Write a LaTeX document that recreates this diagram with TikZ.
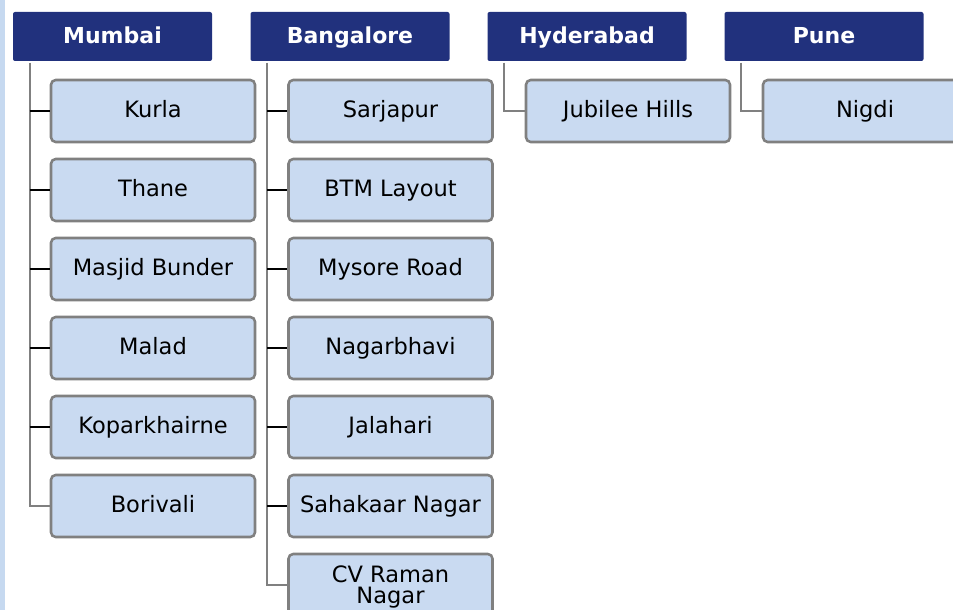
\documentclass[tikz,border=0pt]{standalone}
\usepackage{fontspec}
\setmainfont{DejaVu Sans}
\definecolor{navy}{HTML}{21317D}
\definecolor{boxfill}{HTML}{C9DAF1}
\definecolor{boxline}{HTML}{808080}
\definecolor{strip}{HTML}{C6D9F0}
\begin{document}
\begin{tikzpicture}[x=0.75pt,y=-0.75pt,
  hdr/.style={fill=navy, text=white, rounded corners=1.5pt, minimum width=199*0.75pt, minimum height=49*0.75pt, inner sep=0pt, text height=12.1pt, text depth=2.2pt, font=\fontsize{16.5pt}{19pt}\selectfont\bfseries},
  child/.style={fill=boxfill, draw=boxline, line width=1.9pt, rounded corners=3.5pt, minimum width=204*0.75pt, minimum height=62*0.75pt, inner sep=0pt, align=center, text height=12.3pt, text depth=2.2pt, font=\fontsize{16.9pt}{16pt}\selectfont},
  trunk/.style={draw=boxline, line width=1.7pt},
  tick/.style={draw=black, line width=1.7pt}]
\useasboundingbox (0,0) rectangle (953,610);
\fill[strip] (0,0) rectangle (5,610);
% headers
\node[hdr] (h1) at (112.5,36.5) {Mumbai};
\node[hdr] (h2) at (350,36.5) {Bangalore};
\node[hdr] (h3) at (587,36.5) {Hyderabad};
\node[hdr] (h4) at (824,36.5) {Pune};
% Mumbai
\foreach \t [count=\i] in {Kurla,Thane,Masjid Bunder,Malad,Koparkhairne,Borivali}
  \node[child] (m\i) at (153,{111+79*(\i-1)}) {\t};
% Bangalore
\foreach \t [count=\i] in {Sarjapur,BTM Layout,Mysore Road,Nagarbhavi,Jalahari,Sahakaar Nagar}
  \node[child] (b\i) at (390.5,{111+79*(\i-1)}) {\t};
\node[child, text height=28.3pt, text depth=0pt] (b7) at (390.5,585) {CV Raman\\Nagar};
% Hyderabad, Pune
\node[child] (y1) at (628,111) {Jubilee Hills};
\node[child] (p1) at (865,111) {Nigdi};
% connectors
\coordinate (t1) at ([xshift=17*0.75pt]h1.south west);
\coordinate (t2) at ([xshift=17*0.75pt]h2.south west);
\coordinate (t3) at ([xshift=17*0.75pt]h3.south west);
\coordinate (t4) at ([xshift=17*0.75pt]h4.south west);
\draw[trunk] ([yshift=-1pt]t1) |- (m6.west);
\foreach \i in {1,...,5} \draw[tick] (t1 |- m\i.west) -- (m\i.west);
\draw[trunk] ([yshift=-1pt]t2) |- (b7.west);
\foreach \i in {1,...,6} \draw[tick] (t2 |- b\i.west) -- (b\i.west);
\draw[trunk] ([yshift=-1pt]t3) |- (y1.west);
\draw[trunk] ([yshift=-1pt]t4) |- (p1.west);
\end{tikzpicture}
\end{document}
